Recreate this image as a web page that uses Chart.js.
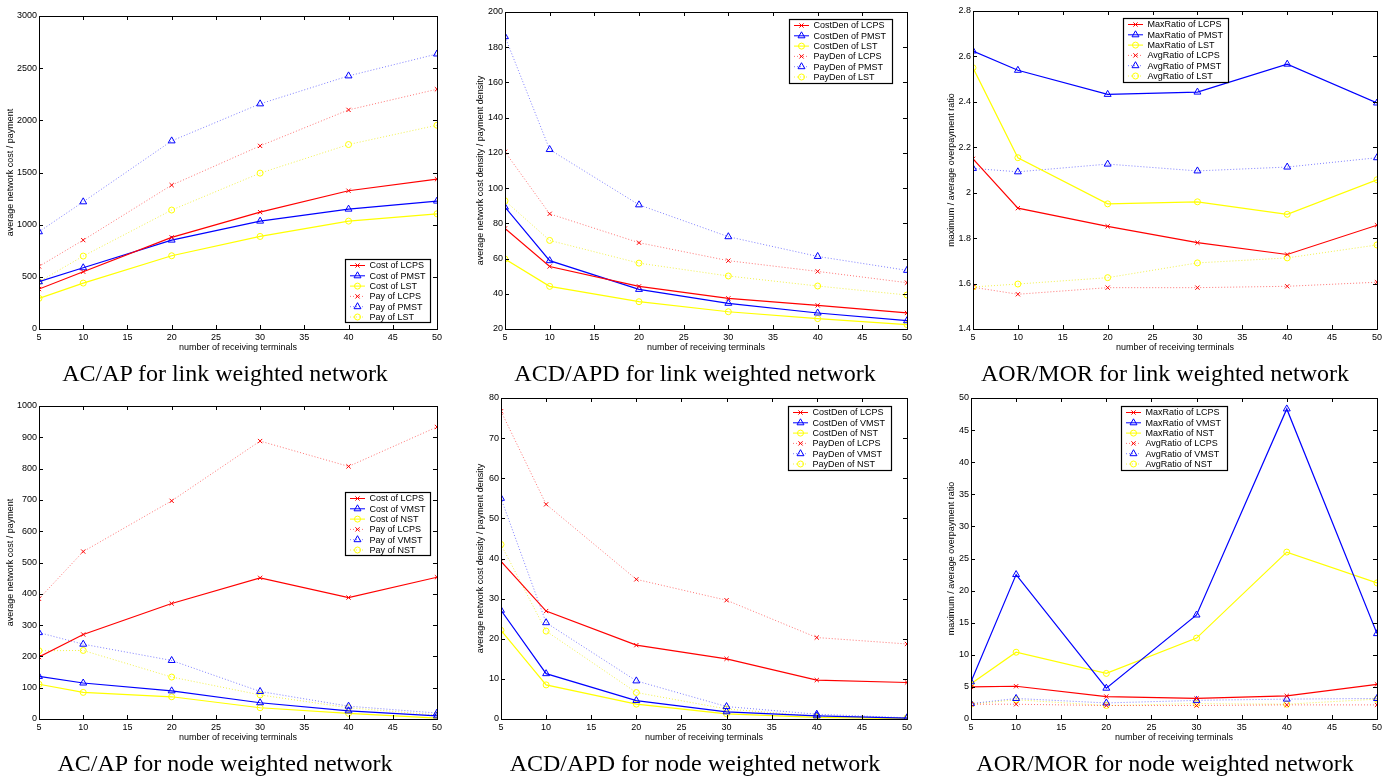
<!DOCTYPE html>
<html>
<head>
<meta charset="utf-8">
<script src="https://cdn.jsdelivr.net/npm/chart.js@4.4.1/dist/chart.umd.min.js"></script>
<style>
body { margin: 0; background: #fff; width: 1397px; height: 782px; position: relative; overflow: hidden; }
canvas { position: absolute; }
.cap { position: absolute; font-family: "Liberation Serif", "Times New Roman", serif; font-size: 24px; white-space: nowrap; transform: translate(-50%, -50%); color: #000; }
</style>
</head>
<body>
<canvas id="c1"></canvas><canvas id="c2"></canvas><canvas id="c3"></canvas>
<canvas id="c4"></canvas><canvas id="c5"></canvas><canvas id="c6"></canvas>
<script>
// x values shared by every panel
const terminals = [5, 10, 20, 30, 40, 50];

// AC/AP for link weighted network
const linkCostLCPS = [383, 549, 878, 1120, 1325, 1436];
const linkCostPMST = [453, 587, 852, 1034, 1149, 1226];
const linkCostLST  = [294, 440, 702, 887, 1034, 1104];
const linkPayLCPS  = [600, 852, 1379, 1755, 2100, 2298];
const linkPayPMST  = [932, 1219, 1803, 2158, 2426, 2636];
const linkPayLST   = [453, 699, 1140, 1494, 1768, 1953];

// ACD/APD for link weighted network
const linkCostDenLCPS = [77.1, 55.5, 44.2, 37.4, 33.4, 29.1];
const linkCostDenPMST = [89.2, 58.8, 42.5, 34.6, 29.1, 24.7];
const linkCostDenLST  = [59.7, 44.2, 35.5, 29.8, 25.9, 22.5];
const linkPayDenLCPS  = [120.6, 85.4, 69.0, 58.8, 52.7, 46.3];
const linkPayDenPMST  = [186, 121.9, 90.5, 72.4, 61.2, 53.3];
const linkPayDenLST   = [92.8, 70.3, 57.4, 50.1, 44.4, 39.3];

// AOR/MOR for link weighted network
const linkMaxLCPS = [2.149, 1.932, 1.852, 1.780, 1.728, 1.857];
const linkMaxPMST = [2.624, 2.539, 2.433, 2.443, 2.566, 2.395];
const linkMaxLST  = [2.550, 2.154, 1.951, 1.960, 1.905, 2.057];
const linkAvgLCPS = [1.584, 1.553, 1.582, 1.582, 1.588, 1.606];
const linkAvgPMST = [2.107, 2.092, 2.126, 2.096, 2.113, 2.154];
const linkAvgLST  = [1.585, 1.598, 1.626, 1.691, 1.713, 1.770];

// AC/AP for node weighted network
const nodeCostLCPS = [198, 270, 369, 451, 388, 453];
const nodeCostVMST = [136, 115, 90, 52, 26, 10];
const nodeCostNST  = [111, 85, 71, 36, 18, 3];
const nodePayLCPS  = [384, 535, 697, 888, 807, 933];
const nodePayVMST  = [276, 239, 187, 88, 41, 19];
const nodePayNST   = [218, 219, 134, 77, 36, 13];

// ACD/APD for node weighted network
const nodeCostDenLCPS = [39.3, 26.9, 18.4, 15.0, 9.7, 9.1];
const nodeCostDenVMST = [27.1, 11.3, 4.6, 1.8, 0.8, 0.2];
const nodeCostDenNST  = [22.1, 8.5, 3.7, 1.3, 0.4, 0.1];
const nodePayDenLCPS  = [76.7, 53.5, 34.8, 29.6, 20.3, 18.7];
const nodePayDenVMST  = [55.0, 24.0, 9.5, 3.1, 1.2, 0.3];
const nodePayDenNST   = [43.5, 21.9, 6.6, 2.5, 0.7, 0.3];

// AOR/MOR for node weighted network
const nodeMaxLCPS = [5.0, 5.1, 3.5, 3.2, 3.6, 5.4];
const nodeMaxVMST = [5.8, 22.5, 4.8, 16.2, 48.3, 13.3];
const nodeMaxNST  = [5.5, 10.4, 7.1, 12.6, 26.0, 21.2];
const nodeAvgLCPS = [2.3, 2.3, 2.1, 2.1, 2.2, 2.2];
const nodeAvgVMST = [2.4, 3.2, 2.5, 2.9, 3.1, 3.2];
const nodeAvgNST  = [2.3, 3.0, 2.1, 2.4, 2.3, 3.1];

const labelsAcapLink = ['Cost of LCPS', 'Cost of PMST', 'Cost of LST', 'Pay of LCPS', 'Pay of PMST', 'Pay of LST'];
const labelsAcdLink = ['CostDen of LCPS', 'CostDen of PMST', 'CostDen of LST', 'PayDen of LCPS', 'PayDen of PMST', 'PayDen of LST'];
const labelsAorLink = ['MaxRatio of LCPS', 'MaxRatio of PMST', 'MaxRatio of LST', 'AvgRatio of LCPS', 'AvgRatio of PMST', 'AvgRatio of LST'];
const labelsAcapNode = ['Cost of LCPS', 'Cost of VMST', 'Cost of NST', 'Pay of LCPS', 'Pay of VMST', 'Pay of NST'];
const labelsAcdNode = ['CostDen of LCPS', 'CostDen of VMST', 'CostDen of NST', 'PayDen of LCPS', 'PayDen of VMST', 'PayDen of NST'];
const labelsAorNode = ['MaxRatio of LCPS', 'MaxRatio of VMST', 'MaxRatio of NST', 'AvgRatio of LCPS', 'AvgRatio of VMST', 'AvgRatio of NST'];

const colores = ['#ff0000', '#0000ff', '#ffff00'];
const coloresPunteados = ['rgba(255,0,0,0.55)', 'rgba(0,0,255,0.5)', 'rgba(235,235,0,0.7)'];
const estilos = ['crossRot', 'triangle', 'circle'];
const radios = [3, 4, 3];
const fuente = { family: '"Liberation Sans", Arial, sans-serif', size: 9 };

const panels = [
    { id: 'c1', x0: 0, y0: 0, box: [39, 16, 437, 329], ytx: 11, ymin: 0, ymax: 3000, ystep: 500,
      ytitle: 'average network cost / payment', labels: labelsAcapLink,
      series: [linkCostLCPS, linkCostPMST, linkCostLST, linkPayLCPS, linkPayPMST, linkPayLST],
      legend: [345, 259, 85, 63], caption: 'AC/AP for link weighted network', cap: [225, 373] },
    { id: 'c2', x0: 465, y0: 0, box: [505, 12, 907, 329], ytx: 481, ymin: 20, ymax: 200, ystep: 20,
      ytitle: 'average network cost density / payment density', labels: labelsAcdLink,
      series: [linkCostDenLCPS, linkCostDenPMST, linkCostDenLST, linkPayDenLCPS, linkPayDenPMST, linkPayDenLST],
      legend: [789, 19, 103, 64], caption: 'ACD/APD for link weighted network', cap: [695, 373] },
    { id: 'c3', x0: 930, y0: 0, box: [973, 11, 1377, 329], ytx: 952, ymin: 1.4, ymax: 2.8, ystep: 0.2,
      ytitle: 'maximum / average overpayment ratio', labels: labelsAorLink,
      series: [linkMaxLCPS, linkMaxPMST, linkMaxLST, linkAvgLCPS, linkAvgPMST, linkAvgLST],
      legend: [1123, 18, 105, 64], caption: 'AOR/MOR for link weighted network', cap: [1165, 373] },
    { id: 'c4', x0: 0, y0: 390, box: [39, 406, 437, 719], ytx: 11, ymin: 0, ymax: 1000, ystep: 100,
      ytitle: 'average network cost / payment', labels: labelsAcapNode,
      series: [nodeCostLCPS, nodeCostVMST, nodeCostNST, nodePayLCPS, nodePayVMST, nodePayNST],
      legend: [345, 492, 85, 63], caption: 'AC/AP for node weighted network', cap: [225, 763] },
    { id: 'c5', x0: 465, y0: 390, box: [501, 398, 907, 719], ytx: 481, ymin: 0, ymax: 80, ystep: 10,
      ytitle: 'average network cost density / payment density', labels: labelsAcdNode,
      series: [nodeCostDenLCPS, nodeCostDenVMST, nodeCostDenNST, nodePayDenLCPS, nodePayDenVMST, nodePayDenNST],
      legend: [788, 406, 103, 64], caption: 'ACD/APD for node weighted network', cap: [695, 763] },
    { id: 'c6', x0: 930, y0: 390, box: [971, 398, 1377, 719], ytx: 952, ymin: 0, ymax: 50, ystep: 5,
      ytitle: 'maximum / average overpayment ratio', labels: labelsAorNode,
      series: [nodeMaxLCPS, nodeMaxVMST, nodeMaxNST, nodeAvgLCPS, nodeAvgVMST, nodeAvgNST],
      legend: [1121, 406, 106, 64], caption: 'AOR/MOR for node weighted network', cap: [1165, 763] }
];

const dibujarMarca = (ctx, estilo, x, y, r) => {
    ctx.beginPath();
    if (estilo === 'crossRot') {
        const d = r * 0.707;
        ctx.moveTo(x - d, y - d); ctx.lineTo(x + d, y + d);
        ctx.moveTo(x - d, y + d); ctx.lineTo(x + d, y - d);
    } else if (estilo === 'triangle') {
        ctx.moveTo(x, y - r);
        ctx.lineTo(x + r * 0.866, y + r / 2);
        ctx.lineTo(x - r * 0.866, y + r / 2);
        ctx.closePath();
    } else {
        ctx.arc(x, y, r, 0, Math.PI * 2);
    }
    ctx.stroke();
};

// caja negra, marcas hacia dentro y leyenda estilo matlab
const marcoPlugin = {
    id: 'marco',
    afterDatasetsDraw(chart, args, opts) {
        const { ctx, chartArea: a, scales } = chart;
        ctx.save();
        ctx.strokeStyle = '#000';
        ctx.lineWidth = 1;
        ctx.setLineDash([]);
        ctx.strokeRect(Math.round(a.left) + 0.5, Math.round(a.top) + 0.5, Math.round(a.right - a.left), Math.round(a.bottom - a.top));
        ctx.beginPath();
        scales.x.ticks.forEach(t => {
            const px = Math.round(scales.x.getPixelForValue(t.value)) + 0.5;
            ctx.moveTo(px, a.bottom); ctx.lineTo(px, a.bottom - 4);
            ctx.moveTo(px, a.top); ctx.lineTo(px, a.top + 4);
        });
        scales.y.ticks.forEach(t => {
            const py = Math.round(scales.y.getPixelForValue(t.value)) + 0.5;
            ctx.moveTo(a.left, py); ctx.lineTo(a.left + 4, py);
            ctx.moveTo(a.right, py); ctx.lineTo(a.right - 4, py);
        });
        ctx.stroke();

        const [lx, ly, lw, lh] = opts.caja;
        ctx.fillStyle = '#fff';
        ctx.fillRect(lx, ly, lw, lh);
        ctx.lineWidth = 1.2;
        ctx.strokeRect(lx + 0.5, ly + 0.5, lw, lh);
        ctx.font = '9px "Liberation Sans", Arial, sans-serif';
        ctx.textBaseline = 'middle';
        chart.data.datasets.forEach((ds, i) => {
            const y = ly + 6.5 + i * 10.3;
            ctx.strokeStyle = ds.borderColor;
            ctx.lineWidth = 1;
            ctx.setLineDash(ds.borderDash || []);
            ctx.beginPath();
            ctx.moveTo(lx + 5, y); ctx.lineTo(lx + 20, y);
            ctx.stroke();
            ctx.setLineDash([]);
            ctx.strokeStyle = ds.pointBorderColor;
            dibujarMarca(ctx, ds.pointStyle, lx + 12.5, y, ds.pointRadius);
            ctx.fillStyle = '#000';
            ctx.fillText(ds.label, lx + 24.5, y + 0.5);
        });
        ctx.restore();
    }
};

const formatoTick = (v) => String(Number(v.toFixed(2)));

panels.forEach(p => {
    const canvas = document.getElementById(p.id);
    const [l, t, r, b] = p.box;
    const w = r - p.x0 + 8;
    const h = b - p.y0 + 31;
    canvas.width = w; canvas.height = h;
    canvas.style.left = p.x0 + 'px';
    canvas.style.top = p.y0 + 'px';
    canvas.style.width = w + 'px';
    canvas.style.height = h + 'px';

    const datasets = p.series.map((serie, i) => {
        const k = i % 3;
        const punteado = i >= 3;
        return {
            label: p.labels[i],
            data: terminals.map((x, j) => ({ x: x, y: serie[j] })),
            borderColor: punteado ? coloresPunteados[k] : colores[k],
            backgroundColor: 'rgba(0,0,0,0)',
            pointBackgroundColor: 'rgba(0,0,0,0)',
            pointBorderColor: colores[k],
            pointStyle: estilos[k],
            pointRadius: radios[k],
            pointBorderWidth: 1,
            borderWidth: punteado ? 1 : 1.2,
            borderDash: punteado ? [1, 2] : [],
            tension: 0,
            fill: false
        };
    });

    new Chart(canvas.getContext('2d'), {
        type: 'line',
        data: { datasets: datasets },
        plugins: [marcoPlugin],
        options: {
            responsive: false,
            animation: false,
            devicePixelRatio: 1,
            layout: { autoPadding: false, padding: { top: t - p.y0, right: 8, left: 0, bottom: 0 } },
            plugins: {
                legend: { display: false },
                tooltip: { enabled: false },
                marco: { caja: [p.legend[0] - p.x0, p.legend[1] - p.y0, p.legend[2], p.legend[3]] }
            },
            scales: {
                x: {
                    type: 'linear', min: 5, max: 50,
                    ticks: { stepSize: 5, padding: 3, color: '#000', font: fuente, maxRotation: 0, autoSkip: false, callback: formatoTick },
                    grid: { display: false, drawTicks: false },
                    border: { display: false },
                    title: { display: true, text: 'number of receiving terminals', color: '#000', font: fuente, padding: { top: 0, bottom: 7 } },
                    afterFit(s) { s.height = 31; }
                },
                y: {
                    type: 'linear', min: p.ymin, max: p.ymax,
                    ticks: { stepSize: p.ystep, padding: 2, color: '#000', font: fuente, callback: formatoTick },
                    grid: { display: false, drawTicks: false },
                    border: { display: false },
                    title: { display: true, text: p.ytitle, color: '#000', font: fuente, padding: { top: p.ytx - p.x0 - 5.4, bottom: 0 } },
                    afterFit(s) { s.width = l - p.x0; }
                }
            }
        }
    });

    const cap = document.createElement('div');
    cap.className = 'cap';
    cap.textContent = p.caption;
    cap.style.left = p.cap[0] + 'px';
    cap.style.top = p.cap[1] + 'px';
    document.body.appendChild(cap);
});
</script>
</body>
</html>
